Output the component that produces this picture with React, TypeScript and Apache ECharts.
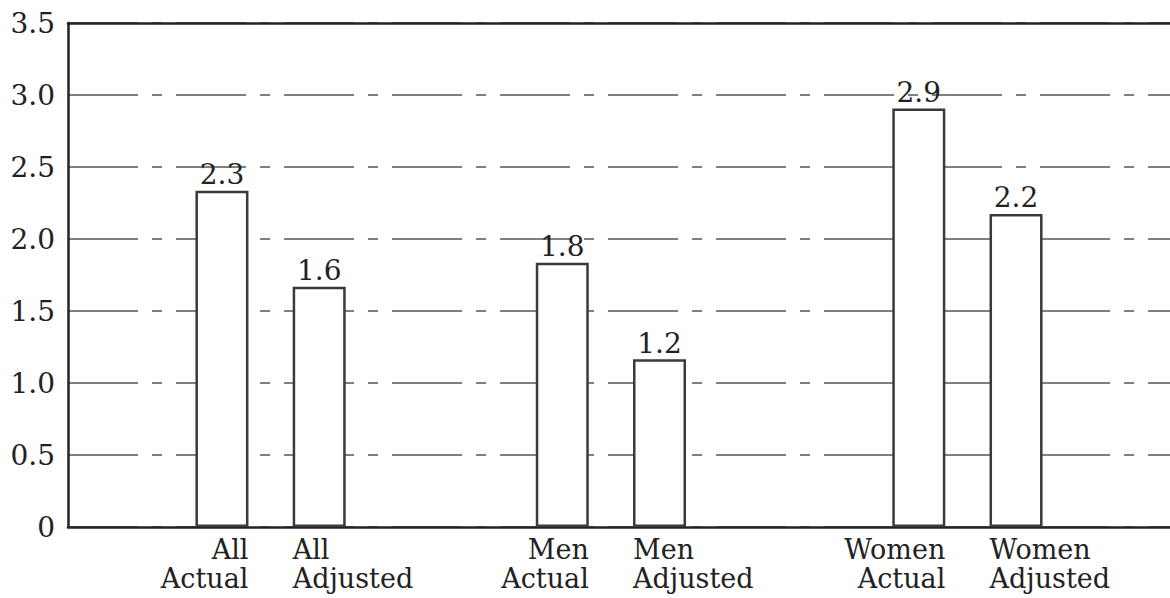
import React, { useEffect, useRef } from "react";
import * as echarts from "echarts";

// ---- data ----
const CATEGORIES = [
  "All\nActual",
  "All\nAdjusted",
  "Men\nActual",
  "Men\nAdjusted",
  "Women\nActual",
  "Women\nAdjusted",
];
const VALUES = [2.335, 1.669, 1.835, 1.165, 2.907, 2.174];
const VALUE_LABELS = ["2.3", "1.6", "1.8", "1.2", "2.9", "2.2"];
const Y_TICK_LABELS = ["0", "0.5", "1.0", "1.5", "2.0", "2.5", "3.0", "3.5"];
const Y_MIN = 0;
const Y_MAX = 3.5;
const Y_STEP = 0.5;

// ---- layout (category slots on the x axis) ----
const SLOT_COUNT = 68;
const BAR_SLOTS = [9, 15, 30, 36, 52, 58];

const FONT = "DejaVu Serif";
const INK = "#222222";

export default function App() {
  const ref = useRef<HTMLDivElement>(null);

  useEffect(() => {
    document.body.style.margin = "0";
    if (!ref.current) return;
    const chart = echarts.init(ref.current, null, { renderer: "svg" });

    const slotNames: string[] = [];
    for (let i = 0; i < SLOT_COUNT; i++) slotNames.push("s" + i);
    BAR_SLOTS.forEach((s, i) => (slotNames[s] = CATEGORIES[i]));

    const valueData: any[] = new Array(SLOT_COUNT).fill(null);
    const nameData: any[] = new Array(SLOT_COUNT).fill(null);
    BAR_SLOTS.forEach((s, i) => {
      valueData[s] = {
        value: VALUES[i],
        label: { formatter: VALUE_LABELS[i] },
      };
      const isActual = i % 2 === 0;
      nameData[s] = {
        value: VALUES[i],
        label: {
          formatter: CATEGORIES[i],
          position: isActual ? ["100%", "100%"] : ["0%", "100%"],
          align: isActual ? "right" : "left",
        },
      };
    });

    chart.setOption({
      animation: false,
      backgroundColor: "#ffffff",
      grid: {
        left: 68,
        right: 0,
        top: 23,
        bottom: 71,
        containLabel: false,
        outerBoundsMode: "none",
      },
      xAxis: [
        {
          type: "category",
          data: slotNames,
          boundaryGap: true,
          axisLine: { show: true, lineStyle: { color: "#222", width: 2.5 } },
          axisTick: { show: false },
          axisLabel: { show: false },
          splitLine: { show: false },
        },
        {
          type: "category",
          position: "top",
          data: slotNames,
          axisLine: { show: true, lineStyle: { color: "#222", width: 2.5 } },
          axisTick: { show: false },
          axisLabel: { show: false },
        },
      ],
      yAxis: {
        type: "value",
        min: Y_MIN,
        max: Y_MAX,
        interval: Y_STEP,
        axisLine: { show: true, lineStyle: { color: "#222", width: 2.5 } },
        axisTick: { show: false },
        axisLabel: {
          fontFamily: FONT,
          fontSize: 28,
          color: INK,
          margin: 13,
          formatter: (v: number) => Y_TICK_LABELS[Math.round((v - Y_MIN) / Y_STEP)],
        },
        splitLine: {
          show: true,
          lineStyle: { color: "#555", width: 1.5, type: [70, 14, 10, 14] },
        },
      },
      series: [
        {
          type: "bar",
          xAxisIndex: 0,
          data: valueData,
          barWidth: 53,
          itemStyle: { color: "#ffffff", borderColor: "#3a3a3a", borderWidth: 2.5 },
          label: {
            show: true,
            position: "top",
            distance: 2,
            fontFamily: FONT,
            fontSize: 28,
            color: INK,
          },
          z: 3,
        },
        {
          type: "bar",
          xAxisIndex: 0,
          data: nameData,
          barWidth: 53,
          barGap: "-100%",
          silent: true,
          itemStyle: { color: "transparent", borderWidth: 0 },
          label: {
            show: true,
            verticalAlign: "top",
            offset: [0, 8],
            fontFamily: FONT,
            fontSize: 27,
            lineHeight: 29,
            color: INK,
          },
          z: 2,
        },
      ],
    });

    return () => chart.dispose();
  }, []);

  return <div ref={ref} style={{ width: 1170, height: 598 }} />;
}
